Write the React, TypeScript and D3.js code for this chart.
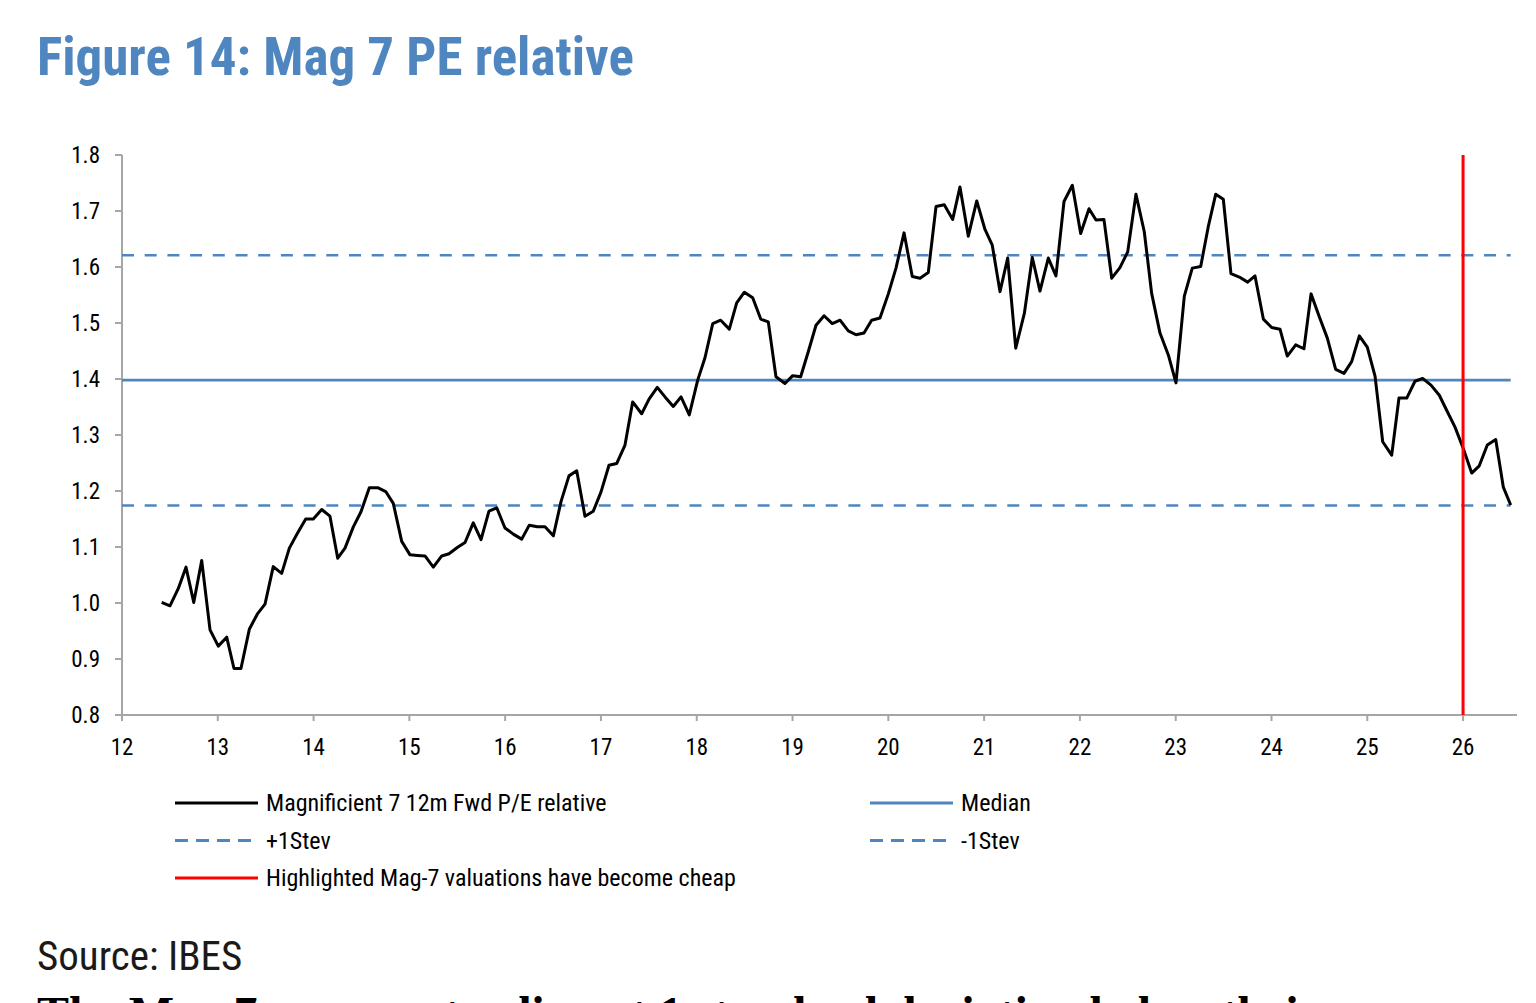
import React from 'react';
import { line, scaleLinear, range, format } from 'd3';

// decimal year of each monthly observation
const years: number[] = [
  12.414, 12.501, 12.588, 12.668, 12.749, 12.832, 12.919, 13.005, 13.093, 13.169,
  13.242, 13.329, 13.412, 13.493, 13.579, 13.667, 13.747, 13.83, 13.918, 13.997,
  14.085, 14.171, 14.252, 14.328, 14.415, 14.495, 14.582, 14.669, 14.753, 14.832,
  14.92, 15.007, 15.085, 15.163, 15.25, 15.338, 15.414, 15.5, 15.581, 15.667,
  15.748, 15.831, 15.912, 15.998, 16.085, 16.173, 16.252, 16.336, 16.416, 16.503,
  16.583, 16.666, 16.747, 16.833, 16.92, 17.0, 17.084, 17.164, 17.251, 17.331,
  17.425, 17.502, 17.588, 17.669, 17.755, 17.836, 17.922, 18.01, 18.086, 18.167,
  18.25, 18.34, 18.417, 18.497, 18.584, 18.668, 18.747, 18.827, 18.921, 19.002,
  19.085, 19.165, 19.245, 19.329, 19.415, 19.496, 19.582, 19.663, 19.746, 19.826,
  19.913, 20.0, 20.08, 20.164, 20.25, 20.331, 20.417, 20.498, 20.584, 20.672,
  20.748, 20.835, 20.923, 21.009, 21.085, 21.166, 21.246, 21.33, 21.42, 21.503,
  21.583, 21.67, 21.75, 21.834, 21.921, 22.008, 22.095, 22.168, 22.251, 22.332,
  22.418, 22.499, 22.585, 22.672, 22.749, 22.836, 22.923, 23.003, 23.09, 23.173,
  23.261, 23.34, 23.418, 23.497, 23.577, 23.664, 23.751, 23.828, 23.915, 24.002,
  24.089, 24.165, 24.253, 24.339, 24.413, 24.499, 24.583, 24.67, 24.757, 24.837,
  24.917, 25.0, 25.081, 25.161, 25.255, 25.331, 25.412, 25.498, 25.578, 25.665,
  25.752, 25.835, 25.916, 26.002, 26.09, 26.169, 26.253, 26.341, 26.42, 26.497,
];

// Magnificent 7 12m fwd P/E relative to the market
const peRelative: number[] = [
  1.001, 0.995, 1.026, 1.064, 1.001, 1.076, 0.952, 0.923, 0.939, 0.883,
  0.883, 0.953, 0.98, 0.998, 1.065, 1.053, 1.098, 1.124, 1.15, 1.15,
  1.167, 1.155, 1.08, 1.098, 1.136, 1.163, 1.206, 1.206, 1.199, 1.178,
  1.11, 1.086, 1.085, 1.084, 1.064, 1.084, 1.088, 1.099, 1.108, 1.143,
  1.113, 1.164, 1.17, 1.134, 1.123, 1.114, 1.139, 1.136, 1.136, 1.12,
  1.181, 1.227, 1.236, 1.155, 1.164, 1.198, 1.246, 1.249, 1.282, 1.359,
  1.338, 1.364, 1.385, 1.368, 1.351, 1.368, 1.336, 1.398, 1.438, 1.499,
  1.505, 1.489, 1.536, 1.555, 1.545, 1.507, 1.502, 1.404, 1.392, 1.406,
  1.404, 1.449, 1.496, 1.513, 1.499, 1.505, 1.486, 1.479, 1.482, 1.505,
  1.509, 1.552, 1.598, 1.661, 1.583, 1.58, 1.59, 1.708, 1.711, 1.685,
  1.743, 1.655, 1.718, 1.667, 1.639, 1.556, 1.616, 1.455, 1.517, 1.617,
  1.557, 1.616, 1.584, 1.717, 1.746, 1.66, 1.704, 1.684, 1.685, 1.58,
  1.599, 1.627, 1.73, 1.663, 1.553, 1.482, 1.443, 1.393, 1.548, 1.598,
  1.601, 1.672, 1.73, 1.721, 1.588, 1.582, 1.573, 1.584, 1.507, 1.492,
  1.489, 1.441, 1.461, 1.454, 1.552, 1.511, 1.473, 1.417, 1.41, 1.431,
  1.477, 1.457, 1.405, 1.288, 1.264, 1.366, 1.366, 1.396, 1.401, 1.389,
  1.371, 1.342, 1.314, 1.276, 1.232, 1.245, 1.282, 1.292, 1.207, 1.175,
];

const median = 1.398;
const plusOneStdev = 1.621;
const minusOneStdev = 1.174;
const highlightYear = 26;

const xTicks: number[] = range(12, 27);
const yTicks: number[] = range(8, 19).map(d => d / 10);

const legendItems = [
  { label: 'Magnificient 7 12m Fwd P/E relative', color: '#000000', dash: '', col: 0, row: 0 },
  { label: 'Median', color: '#4f86c0', dash: '', col: 1, row: 0 },
  { label: '+1Stev', color: '#4f86c0', dash: '13,8', col: 0, row: 1 },
  { label: '-1Stev', color: '#4f86c0', dash: '13,8', col: 1, row: 1 },
  { label: 'Highlighted Mag-7 valuations have become cheap', color: '#ff0000', dash: '', col: 0, row: 2 },
];

const narrow = '"Liberation Sans Narrow", "Arial Narrow", "Roboto Condensed", sans-serif';
const blue = '#4f86c0';
const axisGray = '#a6a6a6';

export default function App() {
  const x = scaleLinear().domain([12, 26.563]).range([122, 1517]);
  const y = scaleLinear().domain([0.8, 1.8]).range([715, 155]);
  const fmt = format('.1f');
  const lastYear = years[years.length - 1];

  const path = line<number>()
    .x((_, i) => x(years[i]))
    .y(d => y(d))(peRelative);

  const refLines = [
    { v: plusOneStdev, dash: '12,10.7' },
    { v: median, dash: '' },
    { v: minusOneStdev, dash: '12,10.7' },
  ];

  return (
    <svg
      width={1536}
      height={1003}
      style={{ position: 'absolute', left: 0, top: 0, background: '#ffffff' }}
    >
      <text x={37} y={75} fill={blue} fontFamily={narrow} fontWeight="bold" fontSize={53}>
        Figure 14: Mag 7 PE relative
      </text>

      {/* axes */}
      <line x1={x(12)} x2={x(12)} y1={y(1.8)} y2={y(0.8)} stroke={axisGray} strokeWidth={2} />
      <line x1={x(12)} x2={1517} y1={y(0.8)} y2={y(0.8)} stroke={axisGray} strokeWidth={2} />
      {yTicks.map(t => (
        <g key={`y${t}`}>
          <line x1={x(12) - 7} x2={x(12)} y1={y(t)} y2={y(t)} stroke={axisGray} strokeWidth={2} />
          <text x={100} y={y(t)} dy="0.35em" textAnchor="end" fontFamily={narrow} fontSize={23} fill="#000">
            {fmt(t)}
          </text>
        </g>
      ))}
      {xTicks.map(t => (
        <g key={`x${t}`}>
          <line x1={x(t)} x2={x(t)} y1={y(0.8)} y2={y(0.8) + 6} stroke={axisGray} strokeWidth={2} />
          <text x={x(t)} y={755} textAnchor="middle" fontFamily={narrow} fontSize={23} fill="#000">
            {t}
          </text>
        </g>
      ))}

      {/* median and +/- 1 stdev bands */}
      {refLines.map(r => (
        <line
          key={r.v}
          x1={x(12)}
          x2={x(lastYear)}
          y1={y(r.v)}
          y2={y(r.v)}
          stroke={blue}
          strokeWidth={2.6}
          strokeDasharray={r.dash || undefined}
        />
      ))}

      <path d={path ?? ''} fill="none" stroke="#000" strokeWidth={3} strokeLinejoin="round" />

      <line
        x1={x(highlightYear)}
        x2={x(highlightYear)}
        y1={y(1.8)}
        y2={y(0.8)}
        stroke="#ff0000"
        strokeWidth={3}
      />

      {/* legend */}
      {legendItems.map(item => {
        const lx = item.col === 0 ? 175 : 870;
        const ly = 803 + item.row * 37.5;
        return (
          <g key={item.label}>
            <line
              x1={lx}
              x2={lx + 83}
              y1={ly}
              y2={ly}
              stroke={item.color}
              strokeWidth={3}
              strokeDasharray={item.dash || undefined}
            />
            <text x={lx + 91} y={ly} dy="0.35em" fontFamily={narrow} fontSize={24} fill="#000">
              {item.label}
            </text>
          </g>
        );
      })}

      <text x={37} y={970} fontFamily={narrow} fontSize={41} fill="#1a1a1a">
        Source: IBES
      </text>

      <text
        x={37}
        y={1030}
        fontFamily='"Liberation Serif", "DejaVu Serif", serif'
        fontWeight="bold"
        fontSize={48}
        fill="#000"
        textLength={1453}
        lengthAdjust="spacing"
      >
        The Mag 7 are now trading at 1 standard deviation below their average
      </text>
    </svg>
  );
}
